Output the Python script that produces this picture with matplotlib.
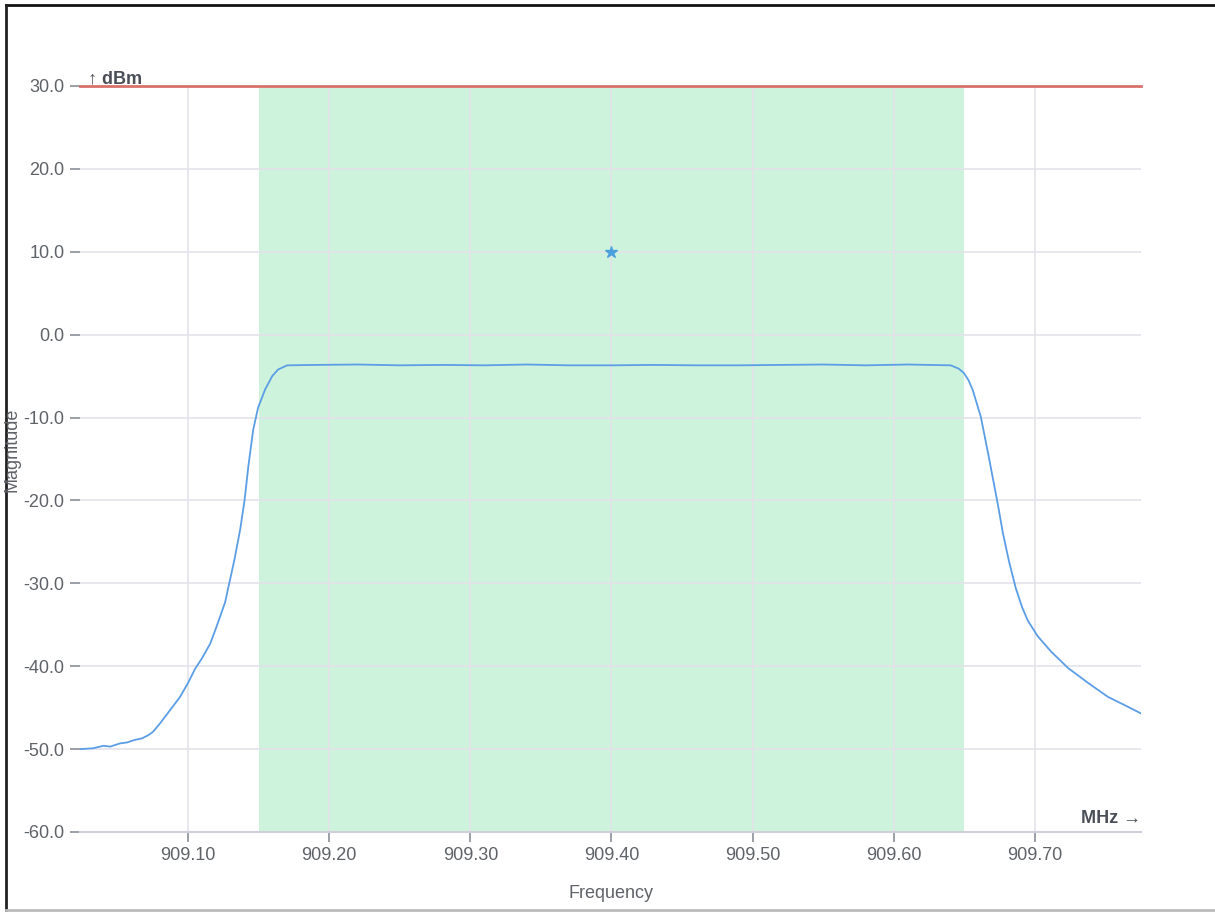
import numpy as np
import matplotlib
matplotlib.use("Agg")
import matplotlib.pyplot as plt
from matplotlib.lines import Line2D

plt.rcParams['font.family'] = ['Liberation Sans', 'DejaVu Sans']

# Spectrum trace (MHz, dBm)
freq_mhz = [909.0234, 909.0326, 909.0400, 909.0447, 909.0520, 909.0567, 909.0620,
            909.0674, 909.0720, 909.0752, 909.0801, 909.0872, 909.0943, 909.1000,
            909.1050, 909.1100, 909.1156, 909.1200, 909.1262, 909.1330, 909.1369,
            909.1400, 909.1426, 909.1461, 909.1496, 909.1546, 909.1596, 909.1638,
            909.1702, 909.1900, 909.2200, 909.2500, 909.2800, 909.3100, 909.3400,
            909.3700, 909.4000, 909.4300, 909.4600, 909.4900, 909.5200, 909.5500,
            909.5800, 909.6100, 909.6250, 909.6404, 909.6460, 909.6496, 909.6530,
            909.6560, 909.6617, 909.6674, 909.6738, 909.6773, 909.6816, 909.6865,
            909.6910, 909.6950, 909.7021, 909.7113, 909.7234, 909.7376, 909.7518,
            909.7660, 909.7752]
magnitude_dbm = [-50.0, -49.9, -49.6, -49.7, -49.3, -49.2, -48.9,
                 -48.7, -48.3, -47.9, -46.9, -45.3, -43.7, -42.0,
                 -40.3, -39.0, -37.3, -35.3, -32.3, -27.0, -23.5,
                 -20.0, -16.0, -11.5, -8.8, -6.6, -5.0, -4.2,
                 -3.7, -3.65, -3.6, -3.7, -3.65, -3.7, -3.6,
                 -3.7, -3.7, -3.65, -3.7, -3.7, -3.65, -3.6,
                 -3.7, -3.6, -3.65, -3.7, -4.1, -4.6, -5.5,
                 -6.7, -9.9, -14.8, -20.5, -23.9, -27.3, -30.6,
                 -32.9, -34.5, -36.4, -38.2, -40.2, -42.0, -43.7,
                 -44.9, -45.7]

band_start, band_stop = 909.15, 909.65
limit_dbm = 30.0
peak_freq, peak_dbm = 909.40, 10.0

x_ticks = [909.10, 909.20, 909.30, 909.40, 909.50, 909.60, 909.70]
y_ticks = [30.0, 20.0, 10.0, 0.0, -10.0, -20.0, -30.0, -40.0, -50.0, -60.0]

TEXT = '#5f6368'
DARK = '#4a4f57'

fig = plt.figure(figsize=(12.15, 9.13), dpi=100)
ax = fig.add_axes([80 / 1215, 81 / 913, 1061 / 1215, 746 / 913])

ax.axvspan(band_start, band_stop, color='#cef3dc', zorder=0, lw=0)
ax.plot(freq_mhz, magnitude_dbm, color='#5b9ee6', lw=1.3, zorder=3)
ax.axhline(limit_dbm, color='#d9716b', lw=2, zorder=4, clip_on=False)
ax.plot([peak_freq], [peak_dbm], marker='*', color='#4a9fdc', ms=9, zorder=5, ls='none')

ax.set_xlim(909.0234, 909.7752)
ax.set_ylim(-60, 30)
ax.set_xticks(x_ticks)
ax.set_xticklabels([f'{v:.2f}' for v in x_ticks])
ax.set_yticks(y_ticks)
ax.set_yticklabels([f'{v:.1f}' for v in y_ticks])

ax.grid(True, color='#e3e3ea', lw=1.2, zorder=1)
ax.set_axisbelow(True)
for side in ['left', 'right', 'top']:
    ax.spines[side].set_visible(False)
ax.spines['bottom'].set_color('#cfd0da')
ax.spines['bottom'].set_linewidth(1.5)
ax.tick_params(axis='both', colors='#8a8f99', labelcolor=TEXT, labelsize=13,
               length=7, width=1.2, pad=4)

ax.set_xlabel('Frequency', color=TEXT, fontsize=13, labelpad=15)
fig.text(12 / 1215, 1 - 450 / 913, 'Magnitude', rotation=90, color=TEXT,
         fontsize=13, ha='center', va='center')
fig.text(88 / 1215, 1 - 79 / 913, '↑ dBm', color=DARK, fontsize=13,
         fontweight='bold', ha='left', va='center')
fig.text(1141 / 1215, 1 - 818 / 913, 'MHz →', color=DARK, fontsize=13,
         fontweight='bold', ha='right', va='center')

# screenshot frame
fig.add_artist(Line2D([6 / 1215, 1], [1 - 5 / 913, 1 - 5 / 913], color='#111111', lw=2))
fig.add_artist(Line2D([6 / 1215, 6 / 1215], [3 / 913, 1 - 5 / 913], color='#222222', lw=2))
fig.add_artist(Line2D([6 / 1215, 1], [3 / 913, 3 / 913], color='#bbbbbb', lw=2))

fig.savefig('out.png', dpi=100, facecolor='white')
